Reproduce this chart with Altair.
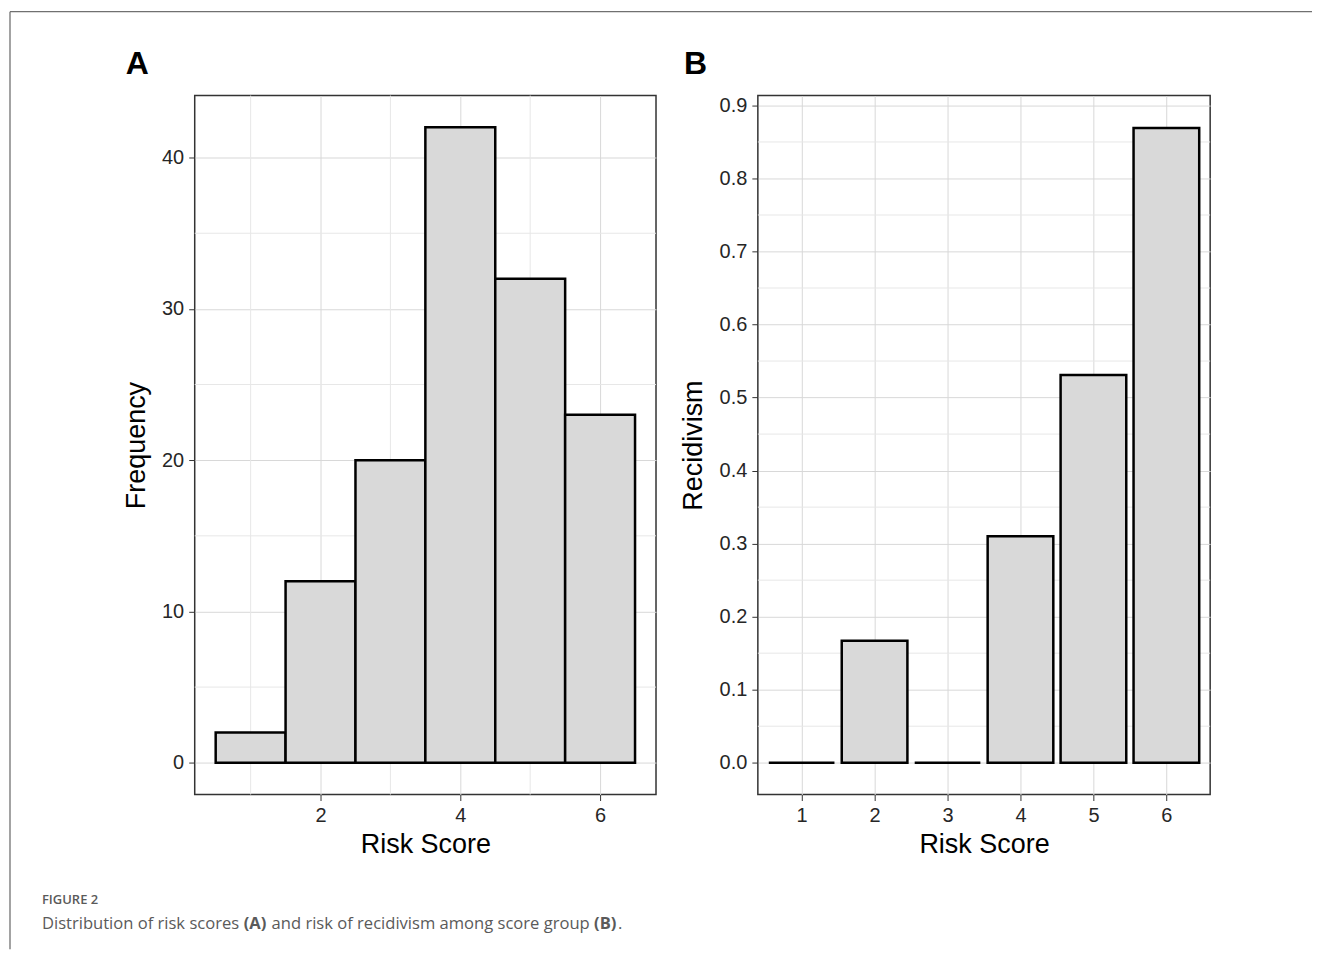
import altair as alt
import pandas as pd

# ---- data ----
scores = [1, 2, 3, 4, 5, 6]
frequency = [2, 12, 20, 42, 32, 23]
recidivism = [0.0, 0.167, 0.0, 0.31, 0.531, 0.869]

a_xticks = [2, 4, 6]
a_xminor = [1, 3, 5]
a_yticks = [0, 10, 20, 30, 40]
a_yminor = [5, 15, 25, 35]

b_xticks = [1, 2, 3, 4, 5, 6]
b_yticks = [0.0, 0.1, 0.2, 0.3, 0.4, 0.5, 0.6, 0.7, 0.8, 0.9]
b_yminor = [0.05, 0.15, 0.25, 0.35, 0.45, 0.55, 0.65, 0.75, 0.85]

panel_labels = ["A", "B"]
x_title = "Risk Score"
ya_title = "Frequency"
yb_title = "Recidivism"
fig_label = "FIGURE 2"
caption_parts = [
    ("Distribution of risk scores", "normal"),
    ("(A)", "bold"),
    ("and risk of recidivism among score group", "normal"),
    ("(B)", "bold"),
    (".", "normal"),
]

# ---- styling ----
FONT = "Liberation Sans"
CAP_FONT = "Open Sans"
BAR_FILL = "#d9d9d9"
MINOR = "#e7e7e7"
FRAME = "#707070"
CAP_COL = "#5a5a5a"

WA, WB, H = 462, 453, 700

dfA = pd.DataFrame({"score": scores, "freq": frequency})
dfB = pd.DataFrame({"score": scores, "rate": recidivism})
one = pd.DataFrame({"k": [0]})

xA = alt.Scale(domain=[0.2, 6.8], nice=False, zero=False)
yA = alt.Scale(domain=[-2.1, 44.1], nice=False, zero=False)
xB = alt.Scale(domain=[0.4, 6.6], nice=False, zero=False)
yB = alt.Scale(domain=[-0.0435, 0.9135], nice=False, zero=False)

ax_xA = alt.Axis(values=a_xticks, format="d", titlePadding=6)
ax_yA = alt.Axis(values=a_yticks, format="d", titlePadding=11)
ax_xB = alt.Axis(values=b_xticks, format="d", titlePadding=6)
ax_yB = alt.Axis(values=b_yticks, format=".1f", titlePadding=12)

# ---------- panel A ----------
a_minor_x = alt.Chart(pd.DataFrame({"v": a_xminor})).mark_rule(
    color=MINOR, strokeWidth=1).encode(
    x=alt.X("v:Q", scale=xA, title=x_title, axis=ax_xA))
a_minor_y = alt.Chart(pd.DataFrame({"v": a_yminor})).mark_rule(
    color=MINOR, strokeWidth=1).encode(
    y=alt.Y("v:Q", scale=yA, title=ya_title, axis=ax_yA))

a_bars = alt.Chart(dfA).transform_calculate(
    lo="datum.score - 0.5", hi="datum.score + 0.5"
).mark_rect(fill=BAR_FILL, stroke="black", strokeWidth=2.5).encode(
    x=alt.X("lo:Q", scale=xA, title=x_title, axis=ax_xA),
    x2="hi:Q",
    y=alt.Y("freq:Q", scale=yA, title=ya_title, axis=ax_yA),
    y2=alt.datum(0),
)

# outer frame (top + left lines)
frame_left = alt.Chart(one).mark_rule(color=FRAME, strokeWidth=1.3).encode(
    x=alt.value(-185), y=alt.value(-84), y2=alt.value(855))
frame_top = alt.Chart(one).mark_rule(color=FRAME, strokeWidth=1.3).encode(
    x=alt.value(-185), x2=alt.value(1119), y=alt.value(-84))

lab_a = alt.Chart(pd.DataFrame({"t": [panel_labels[0]]})).mark_text(
    font=FONT, fontSize=32, fontWeight="bold", align="left", baseline="alphabetic",
    color="black").encode(x=alt.value(-69), y=alt.value(-22), text="t:N")

fig_txt = alt.Chart(pd.DataFrame({"t": [fig_label]})).mark_text(
    font=CAP_FONT, fontSize=13, fontWeight=600, align="left", baseline="alphabetic",
    color=CAP_COL).encode(x=alt.value(-153), y=alt.value(810), text="t:N")

cap_x = [-153, 49, 77, 400, 424]
cap_layers = []
for (txt, wt), cx in zip(caption_parts, cap_x):
    cap_layers.append(
        alt.Chart(pd.DataFrame({"t": [txt]})).mark_text(
            font=CAP_FONT, fontSize=16.6, fontWeight=wt, align="left",
            baseline="alphabetic", color=CAP_COL
        ).encode(x=alt.value(cx), y=alt.value(835), text="t:N")
    )

panelA = alt.layer(a_minor_x, a_minor_y, a_bars, frame_left, frame_top, lab_a,
                   fig_txt, *cap_layers).properties(width=WA, height=H)

# ---------- panel B ----------
b_minor_y = alt.Chart(pd.DataFrame({"v": b_yminor})).mark_rule(
    color=MINOR, strokeWidth=1).encode(
    y=alt.Y("v:Q", scale=yB, title=yb_title, axis=ax_yB))

b_bars = alt.Chart(dfB).transform_calculate(
    lo="datum.score - 0.45", hi="datum.score + 0.45"
).mark_rect(fill=BAR_FILL, stroke="black", strokeWidth=2.5).encode(
    x=alt.X("lo:Q", scale=xB, title=x_title, axis=ax_xB),
    x2="hi:Q",
    y=alt.Y("rate:Q", scale=yB, title=yb_title, axis=ax_yB),
    y2=alt.datum(0),
)

lab_b = alt.Chart(pd.DataFrame({"t": [panel_labels[1]]})).mark_text(
    font=FONT, fontSize=32, fontWeight="bold", align="left", baseline="alphabetic",
    color="black").encode(x=alt.value(-74), y=alt.value(-22), text="t:N")

panelB = alt.layer(b_minor_y, b_bars, lab_b).properties(width=WB, height=H)

chart = alt.hconcat(panelA, panelB, spacing=102, bounds="flush").properties(
    padding={"left": 0, "top": 1, "right": 0, "bottom": 0}
).configure_view(
    stroke="#333333", strokeWidth=1.5
).configure_axis(
    labelFont=FONT, labelFontSize=20, labelColor="#262626",
    titleFont=FONT, titleFontSize=27, titleFontWeight="normal", titleColor="black",
    tickColor="#333333", tickSize=6, tickWidth=1, labelPadding=5,
    domain=False, grid=True, gridColor="#d8d8d8", gridWidth=1,
)

chart.save("out.html", embed_options={"renderer": "svg", "actions": False})
